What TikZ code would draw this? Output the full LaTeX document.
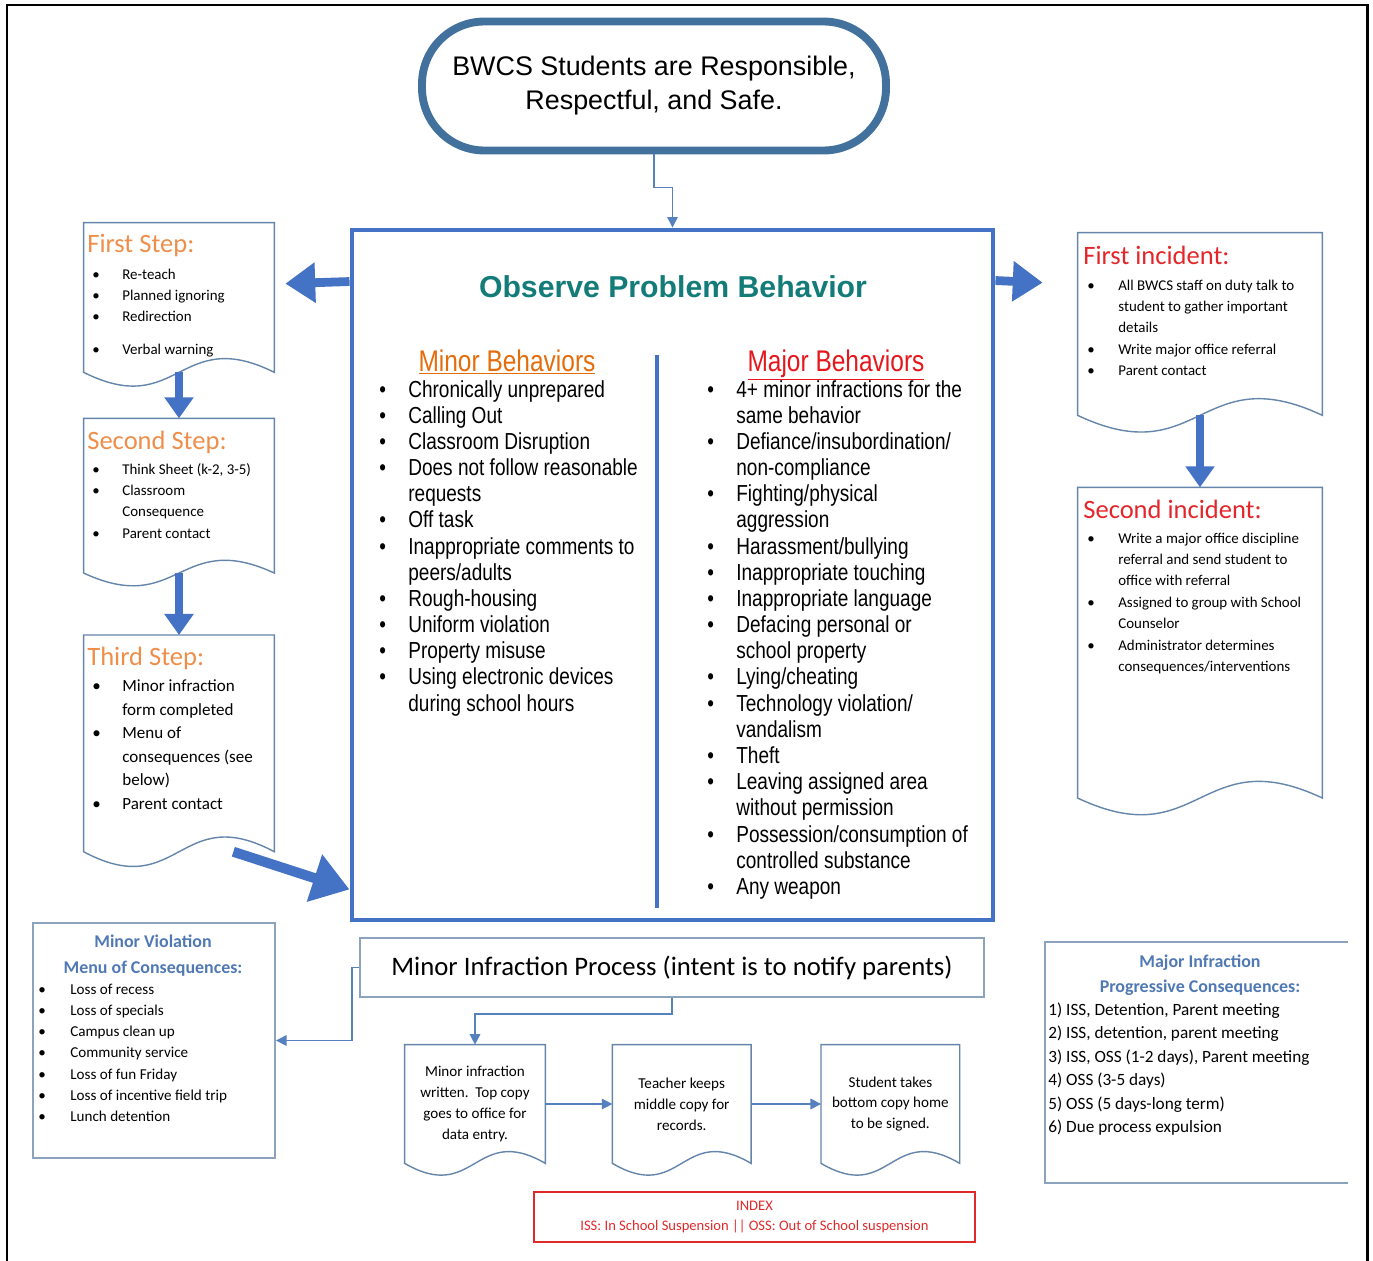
\documentclass[tikz,border=0pt]{standalone}
\usepackage{fontspec}
\setmainfont{Carlito}
\newfontfamily\arialfont{Liberation Sans}
\newfontfamily\narrowfont[FakeStretch=0.82]{Liberation Sans}
\usetikzlibrary{arrows.meta,calc,positioning}
\definecolor{OBlue}{HTML}{4472C4}
\definecolor{MottoBlue}{HTML}{41719C}
\definecolor{LineBlue}{HTML}{5581BE}
\definecolor{DocEdge}{HTML}{6585AA}
\definecolor{BoxEdge}{HTML}{8CA3BD}
\definecolor{TealTitle}{HTML}{137C78}
\definecolor{MinorOrange}{HTML}{E46C0A}
\definecolor{MajorRed}{HTML}{E5161C}
\definecolor{StepOrange}{HTML}{EE8E4A}
\definecolor{IncRed}{HTML}{E4262A}
\definecolor{HeadBlue}{HTML}{5079B4}
\definecolor{IdxRed}{HTML}{E02A2A}
\newlength{\pxl}
\setlength{\pxl}{0.02cm}
\newcommand{\bl}{\textbullet}
\newcommand{\blist}[2]{\begin{tabular}[t]{@{}p{#1\pxl}@{}l@{}}#2\end{tabular}}
% document shape: straight top and sides, wavy bottom (#2 = wave height in px)
\newcommand{\docoutline}[2]{%
    \draw[docline] (#1.south west) -- (#1.north west) -- (#1.north east) -- (#1.south east)
        .. controls ($(#1.south)+(0,-3.4*#2)$) and ($(#1.south)+(0,3.4*#2)$) .. (#1.south west) -- cycle;
}
\tikzset{
    motto/.style = {draw=MottoBlue, line width=4.5pt, rounded corners=1.25cm, align=center,
        font=\arialfont\fontsize{15.3}{19.3}\selectfont},
    obsbox/.style = {draw=OBlue, line width=2.8pt, rectangle},
    docbox/.style = {rectangle, inner sep=0pt, align=center},
    docline/.style = {draw=DocEdge, line width=0.8pt},
    plainbox/.style = {rectangle, inner sep=0pt, align=center},
    fatarrow/.style = {draw=OBlue, line width=5pt, -{Triangle[length=17pt,width=22pt]}},
    bigarrow/.style = {draw=OBlue, line width=5.7pt, -{Triangle[length=21pt,width=27pt]}},
    downarrow/.style = {draw=OBlue, line width=4pt, -{Triangle[length=12pt,width=16pt]}},
    thinarrow/.style = {draw=LineBlue, line width=0.9pt, -{Triangle[length=6pt,width=6pt]}},
    behhead/.style = {inner sep=0pt, anchor=base, font=\narrowfont\fontsize{17}{20}\selectfont},
    behlist/.style = {inner sep=0pt, anchor=base west, font=\narrowfont\fontsize{13.2}{14.9}\selectfont},
    steptitle/.style = {inner sep=0pt, anchor=base west, font=\fontsize{15.1}{18}\selectfont},
    steplist/.style = {inner sep=0pt, anchor=base west, font=\fontsize{8.5}{12.2}\selectfont},
    boxhead/.style = {inner sep=0pt, anchor=base, text=HeadBlue, font=\bfseries\fontsize{10.2}{14.7}\selectfont}
}
\begin{document}
\begin{tikzpicture}[x=0.02cm, y=-0.02cm]
    \useasboundingbox (0,0) rectangle (1373,1261);
    \draw[line width=1.7pt] (7,1261) -- (7,5) -- (1367,5) -- (1367,1261);

    \node[motto, minimum width=464*\pxl, minimum height=129*\pxl] (motto) at (654,86)
        {BWCS Students are Responsible,\\Respectful, and Safe.};

    % centre box
    \node[obsbox, minimum width=641*\pxl, minimum height=690*\pxl] (obs) at (672.5,575) {};
    \draw[thinarrow] (motto.south) -- ++(0,33) -| (obs.north);
    \node[text=TealTitle, font=\arialfont\bfseries\fontsize{17.2}{20}\selectfont] (obstitle) at (673,287) {Observe Problem Behavior};
    \draw[draw=OBlue, line width=2.8pt] (657,355) -- (657,908);
    \node[behhead, text=MinorOrange] (minorhd) at (507,371) {\underline{Minor Behaviors}};
    \node[behhead, text=MajorRed] (majorhd) at (836,371) {\underline{Major Behaviors}};
    \node[behlist] (minorlist) at (379,397) {\blist{29}{%
        \bl & Chronically unprepared\\
        \bl & Calling Out\\
        \bl & Classroom Disruption\\
        \bl & Does not follow reasonable\\
            & requests\\
        \bl & Off task\\
        \bl & Inappropriate comments to\\
            & peers/adults\\
        \bl & Rough-housing\\
        \bl & Uniform violation\\
        \bl & Property misuse\\
        \bl & Using electronic devices\\
            & during school hours}};
    \node[behlist] (majorlist) at (707,397) {\blist{29}{%
        \bl & 4+ minor infractions for the\\
            & same behavior\\
        \bl & Defiance/insubordination/\\
            & non-compliance\\
        \bl & Fighting/physical\\
            & aggression\\
        \bl & Harassment/bullying\\
        \bl & Inappropriate touching\\
        \bl & Inappropriate language\\
        \bl & Defacing personal or\\
            & school property\\
        \bl & Lying/cheating\\
        \bl & Technology violation/\\
            & vandalism\\
        \bl & Theft\\
        \bl & Leaving assigned area\\
            & without permission\\
        \bl & Possession/consumption of\\
            & controlled substance\\
        \bl & Any weapon}};

    % minor steps
    \node[docbox, minimum width=190*\pxl, minimum height=149*\pxl] (fs) at (179,297.5) {};
    \docoutline{fs}{14}
    \node[steptitle, text=StepOrange] (fstitle) at (87,252.5) {First Step:};
    \node[steplist] (fslist) at (92,279) {\blist{30}{%
        \bl & Re-teach\\
        \bl & Planned ignoring\\
        \bl & Redirection\\[6.5pt]
        \bl & Verbal warning}};
    \node[docbox, minimum width=190*\pxl, minimum height=154*\pxl, below=0.92cm of fs] (ss) {};
    \docoutline{ss}{13}
    \node[steptitle, text=StepOrange] (sstitle) at (87,449.5) {Second Step:};
    \node[steplist] (sslist) at (92,474) {\blist{30}{%
        \bl & Think Sheet (k-2, 3-5)\\
        \bl & Classroom\\
            & Consequence\\
        \bl & Parent contact}};
    \node[docbox, minimum width=190*\pxl, minimum height=216*\pxl, below=1.24cm of ss] (ts) {};
    \docoutline{ts}{15}
    \node[steptitle, text=StepOrange] (tstitle) at (87,665.5) {Third Step:};
    \node[steplist, font=\fontsize{9.7}{13.4}\selectfont] (tslist) at (92,691.5) {\blist{30}{%
        \bl & Minor infraction\\
            & form completed\\
        \bl & Menu of\\
            & consequences (see\\
            & below)\\
        \bl & Parent contact}};
    \draw[fatarrow] ($(obs.north west)+(0,54)$) -- ($(fs.north east)+(11,61)$);
    \draw[downarrow] (fs.south) -- (ss.north);
    \draw[downarrow] (ss.south) -- (ts.north);
    \draw[bigarrow] ($(ts.south east)+(-41,0)$) -- ($(obs.south west)+(0,-33)$);

    % major incidents
    \node[docbox, minimum width=244*\pxl, minimum height=182*\pxl] (fi) at (1200,324) {};
    \docoutline{fi}{17}
    \node[steptitle, text=IncRed] (fititle) at (1083,264.5) {First incident:};
    \node[steplist] (filist) at (1087,290) {\blist{31}{%
        \bl & All BWCS staff on duty talk to\\
            & student to gather important\\
            & details\\
        \bl & Write major office referral\\
        \bl & Parent contact}};
    \node[docbox, minimum width=244*\pxl, minimum height=310*\pxl, below=1.44cm of fi] (si) {};
    \docoutline{si}{17}
    \node[steptitle, text=IncRed] (sititle) at (1083,518.5) {Second incident:};
    \node[steplist] (silist) at (1087,543) {\blist{31}{%
        \bl & Write a major office discipline\\
            & referral and send student to\\
            & office with referral\\
        \bl & Assigned to group with School\\
            & Counselor\\
        \bl & Administrator determines\\
            & consequences/interventions}};
    \draw[fatarrow] ($(obs.north east)+(0,53)$) -- ($(fi.north west)+(-35,50)$);
    \draw[downarrow] (fi.south) -- (si.north);

    % minor violation menu
    \node[plainbox, draw=BoxEdge, line width=1.1pt, minimum width=242*\pxl, minimum height=235*\pxl] (mv) at (154,1040.5) {};
    \node[boxhead] (mvhead) at (153,947.5) {\begin{tabular}[t]{@{}c@{}}Minor Violation\\Menu of Consequences:\end{tabular}};
    \node[steplist, font=\fontsize{8.6}{12.1}\selectfont] (mvlist) at (38,994) {\blist{32}{%
        \bl & Loss of recess\\
        \bl & Loss of specials\\
        \bl & Campus clean up\\
        \bl & Community service\\
        \bl & Loss of fun Friday\\
        \bl & Loss of incentive field trip\\
        \bl & Lunch detention}};

    % minor infraction process
    \node[plainbox, draw=BoxEdge, line width=1.1pt, minimum width=624*\pxl, minimum height=59*\pxl,
        font=\fontsize{15.2}{18}\selectfont] (mip) at (672,967.5) {Minor Infraction Process (intent is to notify parents)};
    \draw[thinarrow] (mip.west) -- ++(-7,0) |- (mv.east);
    \node[docbox, minimum width=140*\pxl, minimum height=118*\pxl, font=\fontsize{8.6}{11.9}\selectfont] (d1) at (475,1104)
        {Minor infraction\\written.\ \ Top copy\\goes to office for\\data entry.};
    \docoutline{d1}{12}
    \node[docbox, minimum width=138*\pxl, minimum height=118*\pxl, font=\fontsize{8.6}{11.9}\selectfont, right=1.34cm of d1] (d2)
        {Teacher keeps\\middle copy for\\records.};
    \docoutline{d2}{12}
    \node[docbox, minimum width=138*\pxl, minimum height=118*\pxl, font=\fontsize{8.6}{11.9}\selectfont, right=1.4cm of d2] (d3)
        {Student takes\\bottom copy home\\to be signed.};
    \docoutline{d3}{12}
    \draw[thinarrow] (mip.south) -- ++(0,16) -| (d1.north);
    \draw[thinarrow] (d1.east) -- (d2.west);
    \draw[thinarrow] (d2.east) -- (d3.west);

    % index
    \node[plainbox, draw=IdxRed, line width=1.2pt, minimum width=441*\pxl, minimum height=50*\pxl, text=IdxRed,
        font=\fontsize{8.3}{11.9}\selectfont] (idx) at (754.5,1217)
        {INDEX\\ISS: In School Suspension || OSS: Out of School suspension};

    % major infraction consequences
    \node[plainbox, minimum width=303*\pxl, minimum height=241*\pxl] (mi) at (1196.5,1062.5) {};
    \draw[draw=BoxEdge, line width=1.1pt] (mi.north east) -- (mi.north west) -- (mi.south west) -- (mi.south east);
    \node[boxhead] (mihead) at (1200,967) {\begin{tabular}[t]{@{}c@{}}Major Infraction\\Progressive Consequences:\end{tabular}};
    \node[steplist, font=\fontsize{9.8}{13.4}\selectfont] (milist) at (1048,1015) {\begin{tabular}[t]{@{}l@{}}
        1) ISS, Detention, Parent meeting\\
        2) ISS, detention, parent meeting\\
        3) ISS, OSS (1-2 days), Parent meeting\\
        4) OSS (3-5 days)\\
        5) OSS (5 days-long term)\\
        6) Due process expulsion\end{tabular}};
\end{tikzpicture}
\end{document}
